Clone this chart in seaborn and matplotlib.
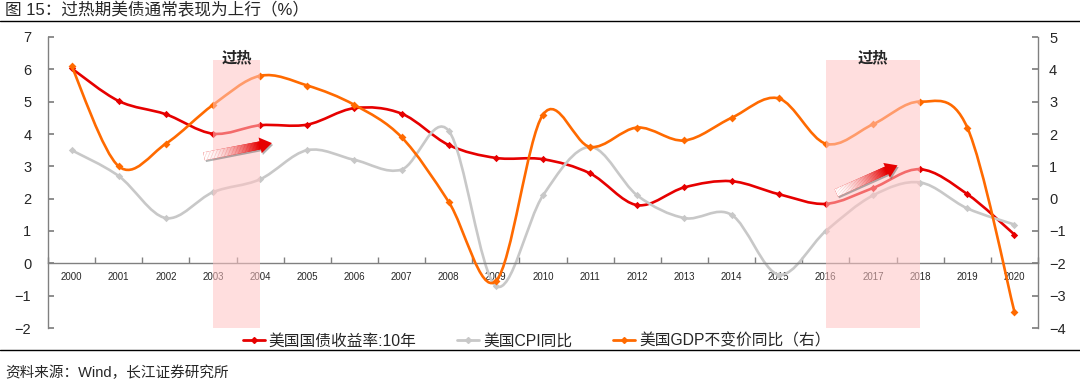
import numpy as np
import matplotlib
matplotlib.use('Agg')
import matplotlib.pyplot as plt
import seaborn as sns
from matplotlib.path import Path
from matplotlib.patches import PathPatch, Polygon
from matplotlib.lines import Line2D
from matplotlib.transforms import IdentityTransform

years = [str(y) for y in range(2000, 2021)]
ust10 = [6.03, 5.02, 4.61, 4.01, 4.27, 4.29, 4.80, 4.63, 3.66, 3.26, 3.22,
         2.78, 1.80, 2.35, 2.54, 2.14, 1.84, 2.33, 2.91, 2.14, 0.89]
cpi = [3.5, 2.7, 1.4, 2.2, 2.6, 3.5, 3.2, 2.9, 4.1, -0.7, 2.1,
       3.6, 2.1, 1.4, 1.5, -0.35, 1.0, 2.1, 2.5, 1.7, 1.2]
gdp = [4.1, 1.0, 1.7, 2.9, 3.8, 3.5, 2.9, 1.9, -0.1, -2.55, 2.6,
       1.6, 2.2, 1.8, 2.5, 3.1, 1.7, 2.3, 3.0, 2.2, -3.5]
hot_periods = [('2003', '2004'), ('2016', '2018')]
labels = ['美国国债收益率:10年', '美国CPI同比', '美国GDP不变价同比（右）']

RED = '#E60000'
GRAY = '#C8C8C8'
ORANGE = '#FF6A00'
AXC = '#808080'

sns.set_theme(style='white')
plt.rcParams['font.family'] = ['Liberation Sans', 'Noto Sans CJK SC', 'DejaVu Sans']


def smooth_path(xs, ys):
    # excel-like smoothed line: catmull-rom segments as cubic beziers
    pts = np.column_stack([xs, ys]).astype(float)
    p = np.vstack([pts[0], pts, pts[-1]])
    verts = [pts[0]]
    codes = [Path.MOVETO]
    for i in range(len(pts) - 1):
        p0, p1, p2, p3 = p[i], p[i + 1], p[i + 2], p[i + 3]
        verts += [p1 + (p2 - p0) / 6, p2 - (p3 - p1) / 6, p2]
        codes += [Path.CURVE4] * 3
    return Path(verts, codes)


fig = plt.figure(figsize=(10.8, 3.84), dpi=100)
ax = fig.add_axes([48 / 1080, 1 - 328 / 384, 990 / 1080, 291 / 384])
ax2 = ax.twinx()
x = np.arange(len(years))

for vals, col in [(ust10, RED), (cpi, GRAY)]:
    ax.add_patch(PathPatch(smooth_path(x, vals), fill=False, edgecolor=col, lw=1.9,
                           capstyle='round', joinstyle='round', zorder=2))
    sns.scatterplot(x=x, y=vals, ax=ax, marker='D', s=14, color=col, linewidth=0, zorder=3)
ax2.add_patch(PathPatch(smooth_path(x, gdp), fill=False, edgecolor=ORANGE, lw=1.9,
                        capstyle='round', joinstyle='round', zorder=2))
sns.scatterplot(x=x, y=gdp, ax=ax2, marker='D', s=16, color=ORANGE, linewidth=0, zorder=3)

ax.set_xlim(-0.5, len(years) - 0.5)
ax.set_ylim(-2, 7)
ax2.set_ylim(-4, 5)
ax.set_yticks(range(-2, 8))
ax2.set_yticks(range(-4, 6))
ax.set_xticks(x, years)
ax.set_xticks(np.arange(-0.5, len(years), 1), minor=True)
ax.set_xlabel('')
ax.set_ylabel('')
ax2.set_ylabel('')

ax.spines['top'].set_visible(False)
ax.spines['right'].set_visible(False)
ax.spines['bottom'].set_position(('data', 0))
for s in ['top', 'left', 'bottom']:
    ax2.spines[s].set_visible(False)
for sp in [ax.spines['left'], ax.spines['bottom'], ax2.spines['right']]:
    sp.set_color(AXC)
    sp.set_linewidth(1)

ax.tick_params(axis='y', direction='in', length=4, color=AXC, labelsize=10.5, pad=12, left=True)
ax2.tick_params(axis='y', direction='in', length=4, color=AXC, labelsize=10.5, pad=8, right=True)
ax.tick_params(axis='x', which='major', length=0, labelsize=7, pad=6)
ax.tick_params(axis='x', which='minor', direction='in', length=4, color=AXC, bottom=True)

# shaded overheating periods, drawn over the lines
for start, end in hot_periods:
    i0, i1 = years.index(start), years.index(end)
    ax2.axvspan(i0, i1, ymin=0, ymax=0.921, color='#FFC4C4', alpha=0.55, lw=0, zorder=5)
    ax2.text((i0 + i1) / 2, 6.36, '过热', transform=ax.transData, ha='center', va='center',
             fontsize=11, fontweight='bold', family=['Noto Sans CJK SC'], zorder=6)


def draw_arrow(tail, tip, w=8, hw=16, hl=12, n=40):
    t = ax.transData.transform(tail)
    h = ax.transData.transform(tip)
    u = (h - t) / np.linalg.norm(h - t)
    nv = np.array([-u[1], u[0]])
    b = h - u * hl
    outline = [t + nv * w / 2, b + nv * w / 2, b + nv * hw / 2, h,
               b - nv * hw / 2, b - nv * w / 2, t - nv * w / 2]
    shadow = [np.array(p) + np.array([1.2, -1.8]) for p in outline]
    fig.add_artist(Polygon(shadow, closed=True, transform=IdentityTransform(),
                           facecolor='#555555', alpha=0.45, edgecolor='none', zorder=10))
    fig.add_artist(Polygon(outline, closed=True, transform=IdentityTransform(),
                           facecolor=RED, edgecolor='none', zorder=11))
    red = np.array([0.90, 0.0, 0.0])
    L = np.linalg.norm(b - t)
    for k in range(n):
        s0, s1 = L * k / n, L * (k + 1) / n + 0.3
        f = (k / (n - 1)) ** 1.6
        c = (1 - f) * np.ones(3) + f * red
        q = [t + u * s0 + nv * w / 2, t + u * s1 + nv * w / 2,
             t + u * s1 - nv * w / 2, t + u * s0 - nv * w / 2]
        fig.add_artist(Polygon(q, closed=True, transform=IdentityTransform(),
                               facecolor=c, edgecolor='none', zorder=12))


draw_arrow((2.81, 3.31), (4.25, 3.72))
draw_arrow((16.22, 2.18), (17.52, 3.03))

handles = [Line2D([], [], color=c, lw=2, marker='D', markersize=3)
           for c in [RED, GRAY, ORANGE]]
fig.legend(handles, labels, loc='center', bbox_to_anchor=(0.497, 1 - 341 / 384), ncol=3,
           frameon=False, handlelength=1.4, handletextpad=0.25, columnspacing=2.6,
           prop={'family': ['Liberation Sans', 'Noto Sans CJK SC'], 'size': 11.3})

fig.text(5 / 1080, 1 - 10 / 384, '图 15：过热期美债通常表现为上行（%）', ha='left', va='center',
         fontsize=12, family=['Liberation Sans', 'Noto Sans CJK SC'])
fig.add_artist(Line2D([0, 1], [1 - 20.5 / 384] * 2, transform=fig.transFigure, color='black', lw=1))
fig.add_artist(Line2D([0, 1], [1 - 349.5 / 384] * 2, transform=fig.transFigure, color='black', lw=1))
fig.text(5 / 1080, 1 - 373 / 384, '资料来源：Wind，长江证券研究所', ha='left', va='center',
         fontsize=10.5, family=['Liberation Sans', 'Noto Sans CJK SC'])

fig.savefig('out.png', dpi=100)
